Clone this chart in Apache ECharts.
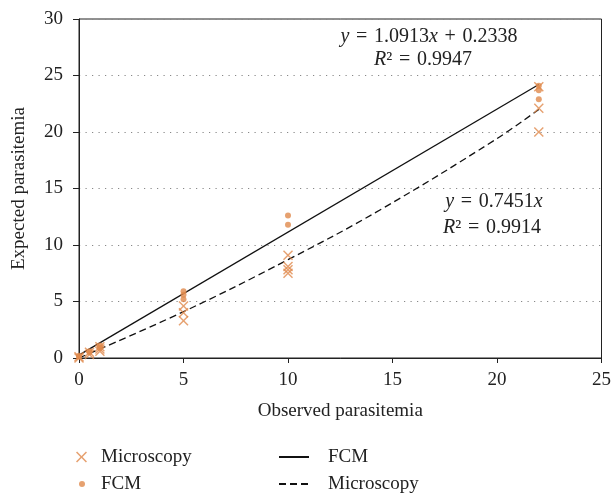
<!DOCTYPE html>
<html>
<head>
<meta charset="utf-8">
<script src="https://cdn.jsdelivr.net/npm/echarts@6/dist/echarts.min.js"></script>
<style>html,body{margin:0;padding:0;background:#fff}#c{width:614px;height:495px}</style>
</head>
<body>
<div id="c"></div>
<script>
// ---- data ----
var microscopyX = [0, 0, 0.5, 0.5, 1, 1, 1, 5, 5, 5, 10, 10, 10, 10, 22, 22, 22];
var microscopyY = [0, 0.1, 0.3, 0.5, 0.6, 0.8, 1.0, 4.6, 4.0, 3.3, 9.1, 8.1, 7.8, 7.5, 24.0, 22.1, 20.0];
var fcmX = [0, 0, 0.5, 0.5, 1, 1, 5, 5, 5, 10, 10, 22, 22, 22];
var fcmY = [0.1, 0.2, 0.5, 0.6, 0.9, 1.1, 5.9, 5.6, 5.2, 12.6, 11.8, 24.1, 23.7, 22.9];
// trend lines as drawn in the picture
var fcmFitX = [0, 22];
var fcmFitY = [0.25, 24.2];
var micFitX = [0, 5, 10, 14.4, 19.9, 22];
var micFitY = [0, 4.1, 8.7, 13.1, 19.3, 22.0];
var xTicks = [0, 5, 10, 15, 20, 25];
var yTicks = [0, 5, 10, 15, 20, 25, 30];
var eqFCM = ['y = 1.0913x + 0.2338', 'R² = 0.9947'];
var eqMic = ['y = 0.7451x', 'R² = 0.9914'];

function pairs(xs, ys) { return xs.map(function (x, i) { return [x, ys[i]]; }); }

var FONT = 'Liberation Serif';
var ORANGE = '#E08A4C';
var CROSS = 'path://M0,1L1,0L5,4L9,0L10,1L6,5L10,9L9,10L5,6L1,10L0,9L4,5Z';

function eqRich(s) {
  return s.replace(/ /g, '\u2004').replace(/y/g, '{i|y}').replace(/x/g, '{i|x}').replace(/R/g, '{i|R}');
}
function eqText(x, y, s) {
  return { type: 'text', style: { x: x, y: y, text: eqRich(s), align: 'center', verticalAlign: 'middle',
    font: '20px "' + FONT + '"', fill: '#222', rich: { i: { fontStyle: 'italic', fontFamily: FONT, fontSize: 20 } } } };
}
var legendText = { fontFamily: FONT, fontSize: 19, color: '#222', lineHeight: 20 };
function leg(name, left, top, w, h, pad, extra) {
  var o = { orient: 'vertical', left: left, top: top, padding: 0, itemWidth: w, itemHeight: h,
    data: [name], textStyle: Object.assign({}, legendText, { padding: [0, 0, 0, pad] }) };
  return Object.assign(o, extra || {});
}
var fitFmt = function (n) { return n.replace(' fit', ''); };

var chart = echarts.init(document.getElementById('c'), null, { renderer: 'canvas' });
chart.setOption({
  animation: false,
  backgroundColor: '#fff',
  textStyle: { fontFamily: FONT },
  grid: { left: 79, right: 11, top: 19, bottom: 137, show: true, borderColor: '#222', borderWidth: 1, backgroundColor: 'transparent' },
  xAxis: {
    type: 'value', min: xTicks[0], max: xTicks[xTicks.length - 1], interval: 5,
    name: 'Observed parasitemia', nameLocation: 'middle', nameGap: 44,
    nameTextStyle: { fontFamily: FONT, fontSize: 19, color: '#222' },
    axisLine: { show: true, lineStyle: { color: '#222', width: 1 } },
    axisTick: { show: true, length: 5, lineStyle: { color: '#222' } },
    axisLabel: { margin: 13, fontFamily: FONT, fontSize: 19, color: '#222' },
    splitLine: { show: false }
  },
  yAxis: {
    type: 'value', min: yTicks[0], max: yTicks[yTicks.length - 1], interval: 5,
    name: 'Expected parasitemia', nameLocation: 'middle', nameGap: 50,
    nameTextStyle: { fontFamily: FONT, fontSize: 19, color: '#222' },
    axisLine: { show: true, lineStyle: { color: '#222', width: 1 } },
    axisTick: { show: true, length: 6, lineStyle: { color: '#222' } },
    axisLabel: { margin: 16, fontFamily: FONT, fontSize: 19, color: '#222' },
    splitLine: { show: true, lineStyle: { color: '#888', width: 1.2, type: [1.2, 5.3] } }
  },
  legend: [
    leg('Microscopy', 76, 447, 11, 11, 9),
    leg('FCM', 79, 474, 6, 6, 11),
    leg('FCM fit', 278, 447, 30, 11, 14, { formatter: fitFmt, itemStyle: { opacity: 0 } }),
    leg('Microscopy fit', 278, 474, 30, 11, 14, { formatter: fitFmt, itemStyle: { opacity: 0 } })
  ],
  series: [
    {
      name: 'FCM fit', type: 'line', data: pairs(fcmFitX, fcmFitY), symbol: 'none',
      lineStyle: { color: '#111', width: 1.3 }, itemStyle: { color: '#111' }, z: 2
    },
    {
      name: 'Microscopy fit', type: 'line', data: pairs(micFitX, micFitY), symbol: 'none', smooth: 0.4,
      lineStyle: { color: '#111', width: 1.3, type: [7, 4] }, itemStyle: { color: '#111' }, z: 2
    },
    {
      name: 'Microscopy', type: 'scatter', data: pairs(microscopyX, microscopyY),
      symbol: CROSS, symbolSize: 10, itemStyle: { color: ORANGE }, z: 3
    },
    {
      name: 'FCM', type: 'scatter', data: pairs(fcmX, fcmY),
      symbol: 'circle', symbolSize: 6, itemStyle: { color: ORANGE }, z: 3
    }
  ],
  graphic: [
    eqText(429, 37, eqFCM[0]),
    eqText(423, 60, eqFCM[1]),
    eqText(494, 202, eqMic[0]),
    eqText(492, 228, eqMic[1])
  ]
});
</script>
</body>
</html>
